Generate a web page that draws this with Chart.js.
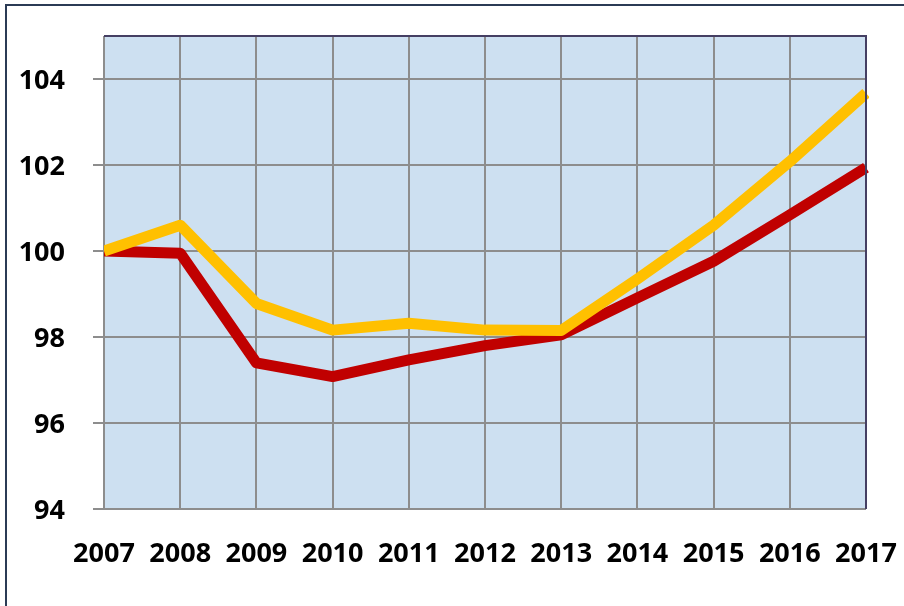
<!DOCTYPE html>
<html>
<head>
<meta charset="utf-8">
<script src="https://cdn.jsdelivr.net/npm/chart.js@4/dist/chart.umd.min.js"></script>
<style>
  html, body { margin: 0; padding: 0; background: #ffffff; }
  #wrap { position: relative; width: 904px; height: 606px; }
</style>
</head>
<body>
<div id="wrap"><canvas id="c" width="904" height="606"></canvas></div>
<script>
const years = ['2007','2008','2009','2010','2011','2012','2013','2014','2015','2016','2017'];
const redSeries = [100.0, 99.95, 97.40, 97.08, 97.47, 97.80, 98.05, 98.91, 99.76, 100.84, 101.94];
const yellowSeries = [100.0, 100.60, 98.78, 98.16, 98.32, 98.16, 98.15, 99.35, 100.60, 102.08, 103.67];
const yTicks = [94, 96, 98, 100, 102, 104];
const yMin = 94, yMax = 105;

const frame = {
  id: 'frame',
  beforeDraw(chart) {
    const {ctx, chartArea: a} = chart;
    ctx.save();
    ctx.fillStyle = '#cde0f1';
    ctx.fillRect(a.left, a.top, a.right - a.left, a.bottom - a.top);
    ctx.strokeStyle = '#2b3b55';
    ctx.lineWidth = 2;
    ctx.beginPath();
    ctx.moveTo(6, 606);
    ctx.lineTo(6, 5);
    ctx.lineTo(904, 5);
    ctx.stroke();
    ctx.restore();
  },
  afterDatasetsDraw(chart) {
    const {ctx, chartArea: a} = chart;
    ctx.save();
    ctx.strokeStyle = '#453f63';
    ctx.lineWidth = 2;
    ctx.beginPath();
    ctx.moveTo(a.left, a.top);
    ctx.lineTo(a.right, a.top);
    ctx.lineTo(a.right, a.bottom);
    ctx.stroke();
    ctx.restore();
  }
};

const font = { family: '"Open Sans", Lato, sans-serif', size: 27, weight: 'bold' };

new Chart(document.getElementById('c'), {
  type: 'line',
  data: {
    labels: years,
    datasets: [
      { label: 'A', data: yellowSeries, borderColor: '#ffc000', borderWidth: 11, pointRadius: 0,
        fill: false, tension: 0, order: 0, borderJoinStyle: 'round', borderCapStyle: 'butt',
        clip: {left: 0, top: 0, right: 3, bottom: 0} },
      { label: 'B', data: redSeries, borderColor: '#c00000', borderWidth: 11, pointRadius: 0,
        fill: false, tension: 0, order: 1, borderJoinStyle: 'round', borderCapStyle: 'butt',
        clip: {left: 0, top: 0, right: 3, bottom: 0} }
    ]
  },
  options: {
    responsive: false,
    animation: false,
    layout: { padding: { left: 10, right: 38, top: 36, bottom: 35 } },
    plugins: { legend: { display: false }, tooltip: { enabled: false } },
    scales: {
      x: {
        offset: false,
        grid: { color: '#8d8d8d', lineWidth: 2, drawTicks: false },
        border: { display: false },
        ticks: { color: '#000000', font: font, padding: 29, maxRotation: 0, autoSkip: false },
        afterFit(s) { s.height = 62; s.paddingLeft = 0; s.paddingRight = 0; }
      },
      y: {
        min: yMin, max: yMax,
        grid: { color: '#8d8d8d', lineWidth: 2, drawTicks: true, tickLength: 11 },
        border: { display: false },
        afterBuildTicks(s) { s.ticks = yTicks.map(v => ({ value: v })); },
        ticks: { color: '#000000', font: font, padding: 28, labelOffset: 2 },
        afterFit(s) { s.width = 94; s.paddingTop = 0; s.paddingBottom = 0; }
      }
    }
  },
  plugins: [frame]
});
</script>
</body>
</html>
